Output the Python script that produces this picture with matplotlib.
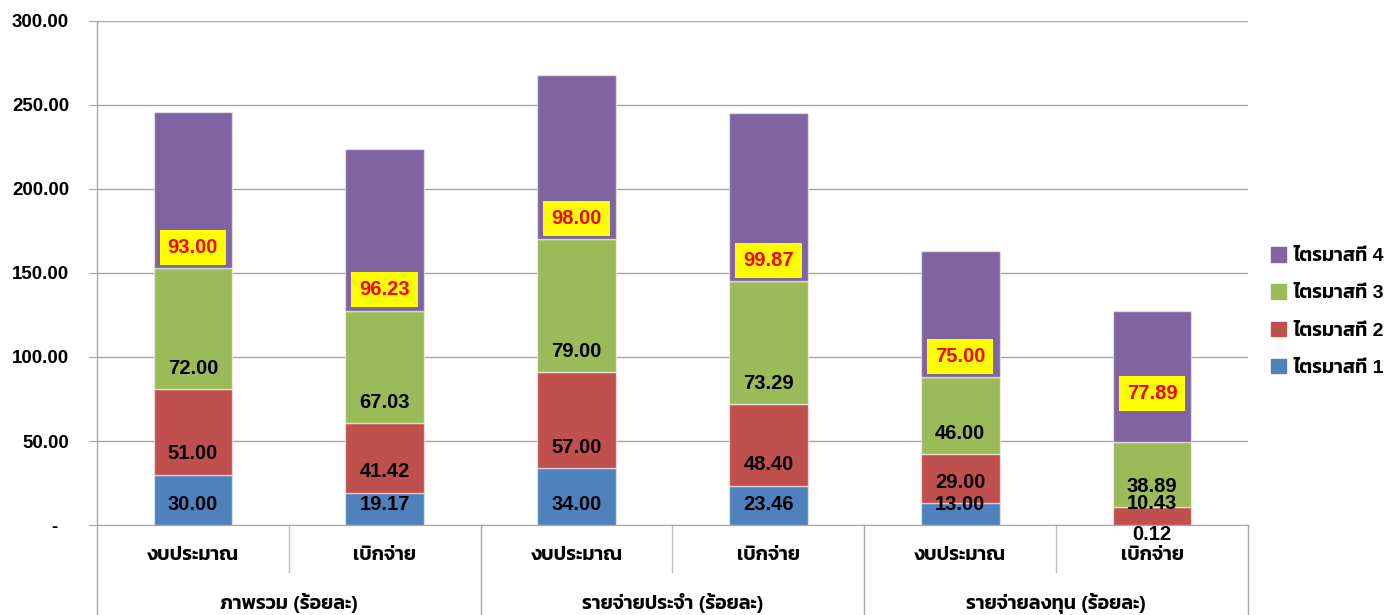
import matplotlib
matplotlib.use('Agg')
import matplotlib.pyplot as plt
from matplotlib.patches import Patch
import matplotlib.transforms as mtransforms

sub_labels = ['งบประมาณ', 'เบิกจ่าย'] * 3
group_labels = ['ภาพรวม (ร้อยละ)', 'รายจ่ายประจำ (ร้อยละ)', 'รายจ่ายลงทุน (ร้อยละ)']
series_names = ['ไตรมาสที่ 1', 'ไตรมาสที่ 2', 'ไตรมาสที่ 3', 'ไตรมาสที่ 4']
q1 = [30.00, 19.17, 34.00, 23.46, 13.00, 0.12]
q2 = [51.00, 41.42, 57.00, 48.40, 29.00, 10.43]
q3 = [72.00, 67.03, 79.00, 73.29, 46.00, 38.89]
q4 = [93.00, 96.23, 98.00, 99.87, 75.00, 77.89]
colors = ['#4F81BD', '#C0504D', '#9BBB59', '#8064A2']

# latin glyphs from Liberation, thai glyphs fall through to Kanit
thai_font = ['Liberation Sans', 'Kanit', 'Noto Sans Thai', 'DejaVu Sans']
num_font = ['Liberation Sans', 'DejaVu Sans']

fig = plt.figure(figsize=(13.84, 6.15), dpi=100)
ax = fig.add_axes([97/1384, 1 - 525/615, (1248 - 97)/1384, (525 - 21)/615])

x = list(range(len(q1)))
bottom = [0.0] * len(x)
for vals, col, name in zip([q1, q2, q3, q4], colors, series_names):
    ax.bar(x, vals, 0.41, bottom=bottom, color=col, edgecolor=(1, 1, 1, 0.5),
           linewidth=1, label=name, zorder=3)
    for i, (v, b) in enumerate(zip(vals, bottom)):
        txt = '%.2f' % v
        if vals is q4:
            lift = 15 if i < 5 else 35
            ax.annotate(txt, (i, b), xytext=(0, lift), textcoords='offset points',
                        ha='center', va='center', fontsize=14.5, fontweight='bold',
                        color='#FF0000', family=num_font, zorder=5,
                        bbox=dict(boxstyle='square,pad=0.4', fc='#FFFF00', ec='none'))
        else:
            lift = 15 if v > 1 else -7
            ax.annotate(txt, (i, b), xytext=(0, lift), textcoords='offset points',
                        ha='center', va='center', fontsize=14.5, fontweight='bold',
                        color='black', family=num_font, zorder=5, annotation_clip=False)
    bottom = [b + v for b, v in zip(bottom, vals)]

ax.set_xlim(-0.5, 5.5)
ax.set_ylim(0, 300)
ax.set_yticks(range(0, 301, 50))
ax.set_yticklabels(['-  '] + ['%.2f' % t for t in range(50, 301, 50)],
                   fontsize=13.5, fontweight='bold', family=num_font)
ax.tick_params(axis='y', length=6, color='#A6A6A6', pad=14)
ax.set_xticks([])
ax.grid(axis='y', color='#A6A6A6', linewidth=1, zorder=0)
for s in ['top', 'right']:
    ax.spines[s].set_visible(False)
ax.spines['bottom'].set_color('#A6A6A6')
ax.spines['left'].set_visible(False)

# category axis: separators and two rows of labels under the plot
trans = mtransforms.blended_transform_factory(ax.transData, fig.transFigure)
y_axis = 1 - 525/615
y_short = 1 - 572/615
for xs in [-0.5, 1.5, 3.5, 5.5]:
    ax.plot([xs, xs], [1 - 21/615 if xs == -0.5 else y_axis, 0], transform=trans,
            color='#A6A6A6', linewidth=1, clip_on=False, zorder=1)
for xs in [0.5, 2.5, 4.5]:
    ax.plot([xs, xs], [y_axis, y_short], transform=trans,
            color='#BFBFBF', linewidth=1, clip_on=False)
for i, lab in enumerate(sub_labels):
    ax.text(i, 1 - 556/615, lab, transform=trans, ha='center', va='center',
            fontsize=14, fontweight='semibold', family=thai_font)
for g, lab in enumerate(group_labels):
    ax.text(2 * g + 0.5, 1 - 603/615, lab, transform=trans, ha='center', va='center',
            fontsize=14, fontweight='semibold', family=thai_font)

handles = [Patch(color=c, label=n) for c, n in zip(colors, series_names)][::-1]
fig.legend(handles=handles, loc='center left', bbox_to_anchor=(1271/1384, 1 - 312/615),
           frameon=False, borderpad=0, borderaxespad=0,
           handlelength=0.78, handleheight=0.78, handletextpad=0.36,
           labelspacing=0.98, prop={'family': thai_font, 'size': 14, 'weight': 'semibold'})

fig.savefig('out.png', dpi=100)
